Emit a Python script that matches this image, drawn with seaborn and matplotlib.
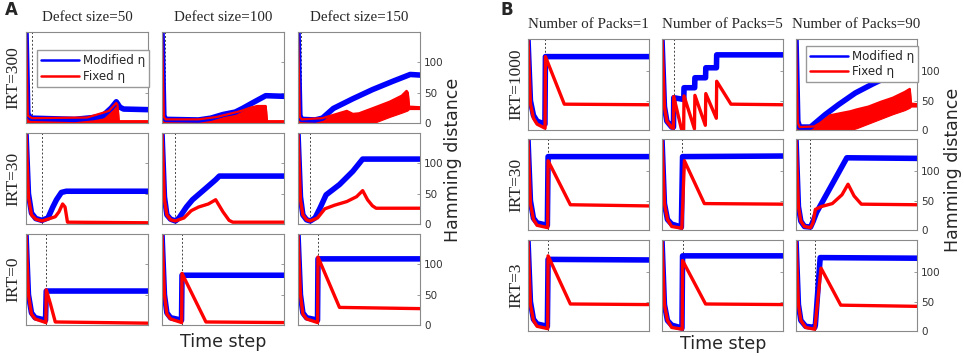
import matplotlib
matplotlib.use("Agg")
import matplotlib.pyplot as plt
from matplotlib.lines import Line2D
import seaborn as sns
import pandas as pd

# ---------------- labels ----------------
A_titles = ["Defect size=50", "Defect size=100", "Defect size=150"]
A_rows = ["IRT=300", "IRT=30", "IRT=0"]
B_titles = ["Number of Packs=1", "Number of Packs=5", "Number of Packs=90"]
B_rows = ["IRT=1000", "IRT=30", "IRT=3"]
yticks = [0, 50, 100]
legend_labels = ["Modified \u03b7", "Fixed \u03b7"]

# dashed marker position (percent of run) per subplot
A_dash = [[4.7, 2.5, 2.2], [13.4, 10.7, 9.6], [16.6, 16.4, 16.4]]
B_dash = [[14.4, 9.7, 1.0], [16.6, 16.6, 11.6], [16.6, 17.0, 15.7]]

# ---------------- Panel A data (x = % of run, y = Hamming distance) ----------------
# IRT=300
A_300_50_blue = [(0, 150), (1.5, 15), (4, 8), (40, 6), (55, 9), (63, 12), (70, 25), (74, 35), (77, 26), (80, 23), (100, 22)]
A_300_50_red_x = [0, 1.5, 5, 50, 60, 68, 74, 75, 76, 100]
A_300_50_red_lo = [0, 0, 0, 0, 0, 0, 0, 0, 0, 0]
A_300_50_red_hi = [150, 12, 8, 9, 15, 20, 33, 30, 3, 3]

A_300_100_blue = [(0, 150), (1.5, 12), (3, 6), (30, 5), (40, 8), (50, 14), (60, 18), (66, 24), (74, 33), (85, 45), (100, 44)]
A_300_100_red_x = [0, 1.5, 3, 30, 45, 55, 65, 72, 78, 85, 86, 100]
A_300_100_red_lo = [0, 0, 0, 0, 0, 0, 0, 0, 0, 0, 0, 0]
A_300_100_red_hi = [150, 10, 6, 6, 10, 15, 20, 25, 28, 28, 3, 3]

A_300_150_blue = [(0, 150), (1.5, 12), (3, 6), (14, 5), (20, 8), (29, 24), (45, 40), (61, 55), (78, 69), (92, 80), (100, 79)]
A_300_150_red_x = [0, 1.5, 3, 20, 30, 40, 45, 50, 62, 75, 85, 89, 90, 91, 100]
A_300_150_red_lo = [0, 0, 0, 0, 0, 0, 0, 0, 0, 10, 17, 20, 21, 23, 23]
A_300_150_red_hi = [150, 10, 6, 8, 14, 20, 15, 16, 25, 35, 45, 53, 50, 27, 26]

# IRT=30
A_30_50_blue = [(0, 150), (2, 50), (4.5, 18), (8, 9), (13, 6), (18, 10), (22, 28), (25, 40), (29, 52), (33, 54), (100, 54)]
A_30_50_red = [(0, 150), (2, 45), (4.5, 15), (8, 8), (13, 5), (18, 8), (24, 12), (27, 20), (30, 33), (32, 28), (34, 3), (100, 2)]

A_30_100_blue = [(0, 150), (2, 45), (4, 15), (7, 8), (11, 5), (14, 10), (20, 28), (25, 40), (36, 59), (44, 73), (47, 79), (100, 79)]
A_30_100_red = [(0, 150), (2, 40), (4, 15), (7, 7), (11, 5), (18, 10), (24, 22), (30, 28), (38, 33), (44, 40), (50, 20), (55, 6), (58, 3), (100, 3)]

A_30_150_blue = [(0, 150), (2, 45), (4, 15), (7, 7), (10, 5), (14, 10), (18, 26), (23, 48), (34, 65), (45, 87), (53, 107), (100, 107)]
A_30_150_red = [(0, 150), (2, 40), (4, 15), (7, 7), (10, 5), (16, 10), (22, 25), (30, 31), (40, 37), (48, 45), (53, 55), (57, 40), (61, 30), (64, 26), (100, 26)]

# IRT=0
A_0_50_blue = [(0, 150), (2, 50), (4.5, 20), (7.5, 12), (16, 8), (16.6, 56), (100, 56)]
A_0_50_red = [(0, 150), (2, 50), (4.5, 18), (7.5, 10), (16.3, 4), (16.6, 58), (20, 35), (24, 5), (100, 3)]

A_0_100_blue = [(0, 150), (2, 50), (4, 20), (7, 12), (16, 8), (16.4, 82), (100, 82)]
A_0_100_red = [(0, 150), (2, 50), (4, 18), (7, 10), (16.1, 4), (16.4, 85), (36, 5), (100, 4)]

A_0_150_blue = [(0, 150), (2, 50), (4, 20), (7, 12), (16, 8), (16.4, 109), (100, 109)]
A_0_150_red = [(0, 150), (2, 50), (4, 18), (7, 10), (16.1, 4), (16.4, 112), (34, 29), (100, 27)]

# ---------------- Panel B data ----------------
# IRT=1000
B_1000_1_blue = [(0, 155), (2, 50), (4.5, 25), (7.5, 15), (14, 10), (14.4, 125), (100, 125)]
B_1000_1_red = [(0, 155), (2, 45), (4.5, 20), (7.5, 10), (14.1, 3), (14.4, 125), (30, 44), (100, 43)]

B_1000_5_blue = [(0, 155), (2, 40), (4, 15), (8, 5), (9.5, 5), (9.7, 55), (18, 52), (18.2, 72), (27, 72), (27.2, 89),
                 (36, 89), (36.2, 106), (45, 106), (45.2, 128), (100, 128)]
B_1000_5_red = [(0, 155), (2, 40), (4, 15), (8, 4), (9.4, 3), (9.7, 57), (16, 2), (17.9, 1), (18.2, 58), (26.8, 2),
                (27.2, 59), (35.8, 8), (36.2, 62), (44.9, 20), (45.2, 83), (57, 44), (100, 43)]

B_1000_90_blue = [(0, 155), (1.5, 15), (3, 5), (12, 5), (16, 12), (24, 26), (35, 43), (49, 63), (63, 78), (77, 92), (88, 104), (92, 106), (100, 106)]
B_1000_90_red_x = [0, 1.5, 3, 15, 20, 28, 40, 45, 50, 60, 70, 80, 90, 94, 95, 100]
B_1000_90_red_lo = [0, 0, 0, 0, 0, 0, 0, 0, 3, 11, 19, 27, 34, 38, 40, 40]
B_1000_90_red_hi = [155, 12, 5, 6, 12, 25, 30, 32, 35, 40, 48, 55, 65, 70, 45, 44]

# IRT=30
B_30_1_blue = [(0, 155), (2, 50), (4.5, 20), (7.5, 12), (16, 8), (16.6, 125), (100, 125)]
B_30_1_red = [(0, 155), (2, 45), (4.5, 18), (7.5, 8), (16.3, 4), (16.6, 118), (35, 43), (100, 41)]

B_30_5_blue = [(0, 155), (2, 45), (4.5, 18), (8, 10), (16, 5), (17, 125), (100, 126)]
B_30_5_red = [(0, 155), (2, 45), (4.5, 18), (8, 6), (16.4, 3), (18.5, 118), (35, 45), (100, 44)]

B_30_90_blue = [(0, 155), (2, 40), (4, 15), (7, 6), (12, 5), (14, 14), (17, 30), (42, 123), (100, 122)]
B_30_90_red = [(0, 155), (2, 40), (4, 15), (7, 6), (12, 4), (14, 12), (16, 35), (21, 40), (30, 45), (38, 60), (43, 78),
               (48, 58), (54, 44), (100, 43)]

# IRT=3
B_3_1_blue = [(0, 155), (2, 50), (4.5, 20), (7.5, 12), (16, 8), (16.6, 122), (100, 121)]
B_3_1_red = [(0, 155), (2, 45), (4.5, 18), (7.5, 8), (16.3, 4), (16.6, 128), (35, 46), (100, 45)]

B_3_5_blue = [(0, 155), (2, 45), (4.5, 18), (8, 10), (16.5, 5), (17, 128), (100, 128)]
B_3_5_red = [(0, 155), (2, 45), (4.5, 18), (8, 6), (16.7, 3), (17, 120), (36, 46), (100, 45)]

B_3_90_blue = [(0, 155), (2, 45), (4, 18), (8, 8), (15.5, 6), (16, 10), (20, 125), (100, 124)]
B_3_90_red = [(0, 155), (2, 45), (4, 18), (8, 6), (15.5, 3), (20.7, 107), (37, 44), (100, 42)]

# ---------------- assembly ----------------
A_blue = [[A_300_50_blue, A_300_100_blue, A_300_150_blue],
          [A_30_50_blue, A_30_100_blue, A_30_150_blue],
          [A_0_50_blue, A_0_100_blue, A_0_150_blue]]
A_red = [[(A_300_50_red_x, A_300_50_red_lo, A_300_50_red_hi),
          (A_300_100_red_x, A_300_100_red_lo, A_300_100_red_hi),
          (A_300_150_red_x, A_300_150_red_lo, A_300_150_red_hi)],
         [A_30_50_red, A_30_100_red, A_30_150_red],
         [A_0_50_red, A_0_100_red, A_0_150_red]]
B_blue = [[B_1000_1_blue, B_1000_5_blue, B_1000_90_blue],
          [B_30_1_blue, B_30_5_blue, B_30_90_blue],
          [B_3_1_blue, B_3_5_blue, B_3_90_blue]]
B_red = [[B_1000_1_red, B_1000_5_red, (B_1000_90_red_x, B_1000_90_red_lo, B_1000_90_red_hi)],
         [B_30_1_red, B_30_5_red, B_30_90_red],
         [B_3_1_red, B_3_5_red, B_3_90_red]]

sns.set_style("white")
plt.rcParams['font.family'] = ['DejaVu Sans']

W, H = 964, 356
fig = plt.figure(figsize=(W / 100, H / 100), dpi=100)

BLUE = "#0000ff"
RED = "#ff0000"
SPINE = "#8a8a8a"
SERIF = "Liberation Serif"
legend_pos_anchor = {(0, 0): (0.088, 0.80), (0, 2): (0.083, 0.926)}


def px_axes(left, top, w, h):
    return fig.add_axes([left / W, (H - top - h) / H, w / W, h / H])


def draw_panel(lefts, tops, w, h, ymax, titles, rows, blue, red, dash, legend_pos,
               hamming_xy, time_xy):
    for r in range(3):
        for c in range(3):
            ax = px_axes(lefts[c], tops[r], w, h)
            b = pd.DataFrame(blue[r][c], columns=["t", "d"])
            sns.lineplot(data=b, x="t", y="d", ax=ax, color=BLUE, lw=4.0,
                         estimator=None, sort=False, legend=False)
            rd = red[r][c]
            if isinstance(rd, tuple):
                ax.fill_between(rd[0], rd[1], rd[2], color=RED, lw=0.8, edgecolor=RED)
                hi = pd.DataFrame({"t": rd[0], "d": rd[2]})
                sns.lineplot(data=hi, x="t", y="d", ax=ax, color=RED, lw=1.6,
                             estimator=None, sort=False, legend=False)
            else:
                rdf = pd.DataFrame(rd, columns=["t", "d"])
                sns.lineplot(data=rdf, x="t", y="d", ax=ax, color=RED, lw=2.4,
                             estimator=None, sort=False, legend=False)
            ax.axvline(dash[r][c], color="#444444", ls=(0, (2, 2)), lw=0.7, zorder=0.5)
            ax.set_xlim(0, 100)
            ax.set_ylim(0, ymax)
            ax.set_xlabel("")
            ax.set_ylabel("")
            ax.set_xticks([])
            ax.yaxis.tick_right()
            ax.set_yticks(yticks)
            ax.tick_params(axis="y", direction="in", length=2.5, width=0.6, color=SPINE,
                           labelsize=7.5, labelcolor="#333333", pad=3)
            if c < 2:
                ax.set_yticklabels([])
            for s in ax.spines.values():
                s.set_color(SPINE)
                s.set_linewidth(0.8)
            if (r, c) == legend_pos:
                handles = [Line2D([], [], color=BLUE, lw=1.8), Line2D([], [], color=RED, lw=1.8)]
                ax.legend(handles, legend_labels, loc="upper left",
                          bbox_to_anchor=legend_pos_anchor[legend_pos],
                          fontsize=8.6, handlelength=3.2, handletextpad=0.3,
                          borderpad=0.35, labelspacing=0.2, frameon=True,
                          fancybox=False, edgecolor="#999999", borderaxespad=0,
                          framealpha=1)
            if r == 0:
                ax.set_title(titles[c], fontsize=10.8, family=SERIF, pad=8)
            if c == 0:
                ax.text(-0.1, 0.5, rows[r], transform=ax.transAxes, rotation=90,
                        ha="center", va="center", fontsize=12.5, family=SERIF)
    fig.text(hamming_xy[0] / W, 1 - hamming_xy[1] / H, "Hamming distance", rotation=90,
             ha="center", va="center", fontsize=12.5)
    fig.text(time_xy[0] / W, 1 - time_xy[1] / H, "Time step", ha="center", va="center",
             fontsize=12.5)


draw_panel([26, 162, 298], [32, 133, 234], 122, 91, 150, A_titles, A_rows,
           A_blue, A_red, A_dash, (0, 0), (453, 160), (223, 342))
draw_panel([528, 662, 796], [39, 139, 240], 121, 91, 155, B_titles, B_rows,
           B_blue, B_red, B_dash, (0, 2), (953, 170), (723, 344))

fig.text(5 / W, 1 - 10 / H, "A", fontsize=12, fontweight="bold", va="center")
fig.text(500 / W, 1 - 10 / H, "B", fontsize=12, fontweight="bold", va="center")

fig.savefig("out.png", dpi=100)
